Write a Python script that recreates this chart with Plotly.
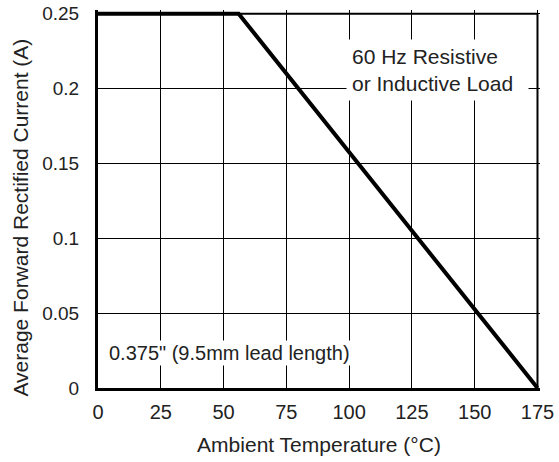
import plotly.graph_objects as go

# Data
temperature = [0, 56, 175]
current = [0.25, 0.25, 0.0]
x_ticks = [0, 25, 50, 75, 100, 125, 150, 175]
y_ticks = [0, 0.05, 0.1, 0.15, 0.2, 0.25]
y_tick_text = ["0", "0.05", "0.1", "0.15", "0.2", "0.25"]

FONT = "Liberation Sans, Arial, sans-serif"
TXT = "#222"

fig = go.Figure()
fig.add_trace(go.Scatter(
    x=temperature, y=current, mode="lines",
    line=dict(color="black", width=4),
    hoverinfo="skip", showlegend=False, cliponaxis=False,
))

fig.update_layout(
    width=559, height=462,
    margin=dict(l=98, r=18.5, t=10, b=74),
    paper_bgcolor="white", plot_bgcolor="white",
    font=dict(family=FONT, size=19, color=TXT),
    xaxis=dict(
        range=[0, 176], tickvals=x_ticks, ticktext=[str(v) for v in x_ticks],
        showgrid=True, gridcolor="black", gridwidth=1,
        showline=True, linecolor="black", linewidth=3,
        zeroline=False, ticks="", ticklabelstandoff=4, automargin=False,
        tickfont=dict(size=20, family=FONT, color=TXT),
        title=dict(text="Ambient Temperature (°C)", font=dict(size=21), standoff=16),
    ),
    yaxis=dict(
        range=[0, 0.2525], tickvals=y_ticks, ticktext=y_tick_text,
        showgrid=True, gridcolor="black", gridwidth=1,
        showline=True, linecolor="black", linewidth=3,
        zeroline=False, ticks="", ticklabelstandoff=12, automargin=False,
        tickfont=dict(size=19, family=FONT, color=TXT),
    ),
    shapes=[
        dict(type="line", xref="x", yref="y", x0=0, x1=175, y0=0.25, y1=0.25,
             line=dict(color="black", width=2)),
        dict(type="line", xref="x", yref="y", x0=175, x1=175, y0=0, y1=0.25,
             line=dict(color="black", width=2)),
    ],
    annotations=[
        dict(x=135.0, y=0.2121, xref="x", yref="y", showarrow=False,
             text="60 Hz Resistive<br>or Inductive Load", align="left",
             bgcolor="white", borderpad=5, width=171,
             font=dict(size=21, family=FONT, color=TXT)),
        dict(x=53.2, y=0.0235, xref="x", yref="y", showarrow=False,
             text="0.375\" (9.5mm lead length)", align="left",
             bgcolor="white", borderpad=1, width=246,
             font=dict(size=20, family=FONT, color=TXT)),
        dict(x=-0.175, y=0.45, xref="paper", yref="paper", showarrow=False,
             text="Average Forward Rectified Current (A)", textangle=-90,
             xanchor="center", yanchor="middle",
             font=dict(size=21, family=FONT, color=TXT)),
    ],
)

fig.write_html("out.html", config={"displayModeBar": False},
               post_script="document.body.style.margin='0';")
